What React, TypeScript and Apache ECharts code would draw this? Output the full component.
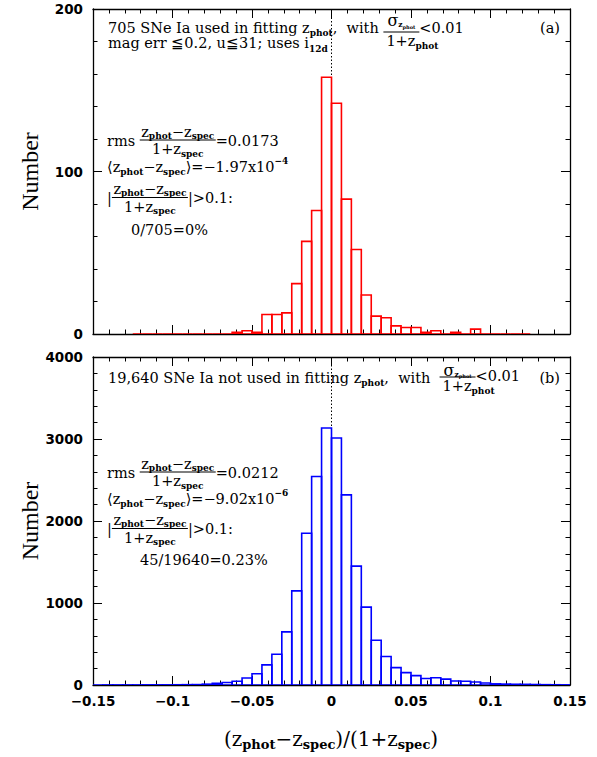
import React, { useEffect, useRef } from "react";
import * as echarts from "echarts";

// ---------------- data ----------------
const BIN_WIDTH = 0.00625;
const X_MIN = -0.15;
const X_MAX = 0.15;
const X_INTERVAL = 0.05;

// panel (a): first bin index (bin i covers [(first+i)*w, (first+i+1)*w])
const TOP_FIRST_BIN = -20;
const TOP_COUNTS = [
  0, 0, 0, 0, 0, 0, 0, 0, 0, 0,
  1, 2, 1, 12, 12, 13, 31, 57, 76, 158,
  142, 83, 52, 24, 11, 10, 5, 4, 4, 1,
  2, 0, 1, 0, 3, 0, 0, 0, 0, 0,
];
const TOP_Y_MAX = 200;
const TOP_Y_INTERVAL = 100;

// panel (b)
const BOT_FIRST_BIN = -24;
const BOT_COUNTS = [
  0, 1, 1, 1, 1, 2, 2, 2, 3, 4,
  5, 10, 20, 30, 45, 85, 137, 245, 375, 648,
  1148, 1850, 2543, 3135,
  3012, 2318, 1450, 950, 545, 347, 212, 151, 114, 80,
  88, 72, 49, 45, 37, 24, 14, 11, 9, 8,
  6, 4, 3, 2,
];
const BOT_Y_MAX = 4000;
const BOT_Y_INTERVAL = 1000;

const TOP_ZERO_LINE = [[0, 0], [0, TOP_Y_MAX]];
const BOT_ZERO_LINE = [[0, 0], [0, BOT_Y_MAX]];

// ---------------- text helpers ----------------
const SERIF = '"DejaVu Serif", serif';
const SANS = '"DejaVu Sans", sans-serif';

type TSeg = { t: string; fs?: number; dy?: number; fw?: string; ff?: string; dx?: number };
type FSeg = {
  num: Seg[];
  den: Seg[];
  barDy: number;
  numDy: number;
  denDy: number;
  pad?: number;
  denLeft?: number; // if set, denominator is left-aligned at bar start + denLeft and bar spans numerator only
};
type Seg = TSeg | FSeg;

let measureCtx: CanvasRenderingContext2D | null = null;
function tw(t: string, fs: number, fw: string, ff: string) {
  if (!measureCtx) measureCtx = document.createElement("canvas").getContext("2d");
  measureCtx!.font = `${fw} ${fs}px ${ff}`;
  return measureCtx!.measureText(t).width;
}

function layout(segs: Seg[], x: number, y: number, out: any[] | null, defFs: number): number {
  let cx = x;
  for (const s of segs) {
    if ((s as FSeg).num) {
      const f = s as FSeg;
      const pad = f.pad ?? 1;
      const wN = layout(f.num, 0, 0, null, defFs);
      const wD = layout(f.den, 0, 0, null, defFs);
      const w = f.denLeft !== undefined ? wN + 2 * pad : Math.max(wN, wD) + 2 * pad;
      if (out) {
        out.push({
          type: "line",
          shape: { x1: cx, y1: y + f.barDy, x2: cx + w, y2: y + f.barDy },
          style: { stroke: "#000", lineWidth: 1.1 },
          z: 100,
        });
        layout(f.num, cx + (w - wN) / 2, y + f.numDy, out, defFs);
        const dx = f.denLeft !== undefined ? f.denLeft : (w - wD) / 2;
        layout(f.den, cx + dx, y + f.denDy, out, defFs);
      }
      cx += w;
    } else {
      const t = s as TSeg;
      const fs = t.fs ?? defFs;
      const fw = t.fw ?? "normal";
      const ff = t.ff ?? SERIF;
      const dx = t.dx ?? 0;
      if (out) {
        out.push({
          type: "text",
          x: cx + dx,
          y: y + (t.dy ?? 0),
          z: 100,
          style: {
            text: t.t,
            fontSize: fs,
            fontWeight: fw,
            fontFamily: ff,
            fill: "#000",
            align: "left",
            textAlign: "left",
            verticalAlign: "middle",
            textVerticalAlign: "middle",
          },
        });
      }
      cx += tw(t.t, fs, fw, ff) + dx;
    }
  }
  return cx - x;
}

const sub = (t: string, fs = 9, dy = 4.5): TSeg => ({ t, fs, dy, fw: "bold" });
const sup = (t: string, fs = 9, dy = -6): TSeg => ({ t, fs, dy, fw: "bold" });

function sigmaFrac(barDy: number, numDy: number, denDy: number): FSeg {
  return {
    num: [{ t: "σ", fs: 16 }, { t: "z", fs: 7.5, dy: 4, fw: "bold" }, { t: "phot", fs: 5, dy: 6, fw: "bold" }],
    den: [{ t: "1+z" }, sub("phot", 9)],
    barDy,
    numDy,
    denDy,
    pad: 4,
    denLeft: 3,
  };
}

function diffFrac(barDy: number, numDy: number, denDy: number): FSeg {
  return {
    num: [{ t: "z" }, sub("phot"), { t: "−z" }, sub("spec")],
    den: [{ t: "1+z" }, sub("spec")],
    barDy,
    numDy,
    denDy,
    pad: 1.5,
  };
}

function buildText(): any[] {
  const out: any[] = [];
  const TF = 14.5; // title font
  const BF = 14.5; // block font
  // ---- panel (a) ----
  layout(
    [
      { t: "705 SNe Ia used in fitting z" },
      sub("phot", 9),
      { t: ",  with " },
      sigmaFrac(4, -7.5, 13),
      { t: "<0.01" },
    ],
    108, 28, out, TF
  );
  out.push(textAt("(a)", 560, 28, "right", TF));
  layout([{ t: "mag err ≦0.2, u≦31; uses i" }, sub("12d", 9, 6)], 108, 42.5, out, TF);
  layout([{ t: "rms " }, diffFrac(-1, -9.5, 8), { t: "=0.0173" }], 107, 141, out, BF);
  layout(
    [{ t: "⟨z" }, sub("phot"), { t: "−z" }, sub("spec"), { t: "⟩=−1.97x10" }, sup("−4")],
    107, 167, out, BF
  );
  layout([{ t: "|" }, diffFrac(-0.5, -9.5, 8.5), { t: "|>0.1:" }], 107, 198, out, BF);
  layout([{ t: "0/705=0%" }], 131, 230, out, BF);

  // ---- panel (b) ----
  layout(
    [
      { t: "19,640 SNe Ia not used in fitting z" },
      sub("phot", 9),
      { t: ",  with  " },
      sigmaFrac(-1, -8, 8),
      { t: "<0.01", dy: -2 },
    ],
    108, 378, out, TF
  );
  out.push(textAt("(b)", 560, 378, "right", TF));
  layout([{ t: "rms " }, diffFrac(-1, -9.5, 8), { t: "=0.0212" }], 107, 473, out, BF);
  layout(
    [{ t: "⟨z" }, sub("phot"), { t: "−z" }, sub("spec"), { t: "⟩=−9.02x10" }, sup("−6")],
    107, 499, out, BF
  );
  layout([{ t: "|" }, diffFrac(-0.5, -9.5, 8.5), { t: "|>0.1:" }], 107, 529, out, BF);
  layout([{ t: "45/19640=0.23%" }], 140, 560, out, BF);

  // ---- axis titles ----
  const xl: Seg[] = [
    { t: "(z" },
    sub("phot", 13, 5),
    { t: "−z" },
    sub("spec", 13, 5),
    { t: ")/(1+z" },
    sub("spec", 13, 5),
    { t: ")" },
  ];
  const wx = layout(xl, 0, 0, null, 20);
  layout(xl, 331 - wx / 2, 739, out, 20);

  for (const cy of [171.5, 521]) {
    out.push({
      type: "text",
      x: 30,
      y: cy,
      rotation: Math.PI / 2,
      z: 100,
      style: {
        text: "Number",
        fontSize: 24,
        fontFamily: '"Liberation Serif", serif',
        fill: "#000",
        align: "center",
        textAlign: "center",
        verticalAlign: "middle",
        textVerticalAlign: "middle",
      },
    });
  }
  return out;
}

function textAt(t: string, x: number, y: number, align: string, fs: number) {
  return {
    type: "text",
    x,
    y,
    z: 100,
    style: {
      text: t,
      fontSize: fs,
      fontFamily: SERIF,
      fill: "#000",
      align,
      textAlign: align,
      verticalAlign: "middle",
      textVerticalAlign: "middle",
    },
  };
}

// ---------------- chart ----------------
function histSeries(first: number, counts: number[], color: string, xi: number, yi: number) {
  const data = counts.map((c, i) => {
    const x0 = (first + i) * BIN_WIDTH;
    return [x0, x0 + BIN_WIDTH, c];
  });
  return {
    type: "custom",
    xAxisIndex: xi,
    yAxisIndex: yi,
    clip: true,
    z: 3,
    encode: { x: [0, 1], y: 2 },
    data,
    renderItem: (_p: any, api: any) => {
      const p0 = api.coord([api.value(0), 0]);
      const p1 = api.coord([api.value(1), api.value(2)]);
      return {
        type: "rect",
        shape: { x: p0[0], y: p1[1], width: p1[0] - p0[0], height: p0[1] - p1[1] },
        style: { fill: "none", stroke: color, lineWidth: 1.6 },
      };
    },
  };
}

function zeroLine(data: number[][], xi: number, yi: number) {
  return {
    type: "line",
    xAxisIndex: xi,
    yAxisIndex: yi,
    data,
    symbol: "none",
    z: 2,
    lineStyle: { color: "#000", width: 1, type: [1.5, 2] },
    silent: true,
  };
}

const LABEL_STYLE = { color: "#000", fontSize: 13.5, fontWeight: "bold", fontFamily: SANS };

function xAxis(gi: number, pos: "top" | "bottom", labels: boolean) {
  return {
    type: "value",
    gridIndex: gi,
    position: pos,
    min: X_MIN,
    max: X_MAX,
    interval: X_INTERVAL,
    axisLine: { show: true, onZero: false, lineStyle: { color: "#000", width: 1.3 } },
    axisTick: { show: true, inside: true, length: 9, lineStyle: { color: "#000", width: 1 } },
    minorTick: { show: true, splitNumber: 5, length: 4.5, lineStyle: { color: "#000", width: 1 } },
    splitLine: { show: false },
    minorSplitLine: { show: false },
    axisLabel: {
      show: labels,
      ...LABEL_STYLE,
      margin: 9,
      showMinLabel: true,
      showMaxLabel: true,
      formatter: (v: number) => {
        const r = Number(v.toFixed(4));
        return (r < 0 ? "−" : "") + String(Math.abs(r));
      },
    },
  };
}

function yAxis(gi: number, pos: "left" | "right", max: number, interval: number, labels: boolean) {
  return {
    type: "value",
    gridIndex: gi,
    position: pos,
    min: 0,
    max,
    interval,
    axisLine: { show: true, onZero: false, lineStyle: { color: "#000", width: 1.3 } },
    axisTick: { show: true, inside: true, length: 9, lineStyle: { color: "#000", width: 1 } },
    minorTick: { show: true, splitNumber: 5, length: 4.5, lineStyle: { color: "#000", width: 1 } },
    splitLine: { show: false },
    minorSplitLine: { show: false },
    axisLabel: {
      show: labels,
      ...LABEL_STYLE,
      margin: 10,
      showMinLabel: true,
      showMaxLabel: true,
      formatter: (v: number) => String(Math.round(v)),
    },
  };
}

export default function App() {
  const ref = useRef<HTMLDivElement>(null);
  useEffect(() => {
    if (!ref.current) return;
    const chart = echarts.init(ref.current, undefined, { renderer: "svg" });
    chart.setOption({
      animation: false,
      backgroundColor: "#fff",
      grid: [
        { left: 93, width: 477, top: 9, height: 325 },
        { left: 93, width: 477, top: 357, height: 328 },
      ],
      xAxis: [
        xAxis(0, "bottom", false),
        xAxis(0, "top", false),
        xAxis(1, "bottom", true),
        xAxis(1, "top", false),
      ],
      yAxis: [
        yAxis(0, "left", TOP_Y_MAX, TOP_Y_INTERVAL, true),
        yAxis(0, "right", TOP_Y_MAX, TOP_Y_INTERVAL, false),
        yAxis(1, "left", BOT_Y_MAX, BOT_Y_INTERVAL, true),
        yAxis(1, "right", BOT_Y_MAX, BOT_Y_INTERVAL, false),
      ],
      series: [
        zeroLine(TOP_ZERO_LINE, 0, 0),
        histSeries(TOP_FIRST_BIN, TOP_COUNTS, "#ff0000", 0, 0),
        zeroLine(BOT_ZERO_LINE, 2, 2),
        histSeries(BOT_FIRST_BIN, BOT_COUNTS, "#0000ff", 2, 2),
      ],
      graphic: { elements: buildText() },
    });
    return () => chart.dispose();
  }, []);
  return (
    <div
      ref={ref}
      style={{ position: "fixed", left: 0, top: 0, width: 597, height: 757, background: "#fff" }}
    />
  );
}
